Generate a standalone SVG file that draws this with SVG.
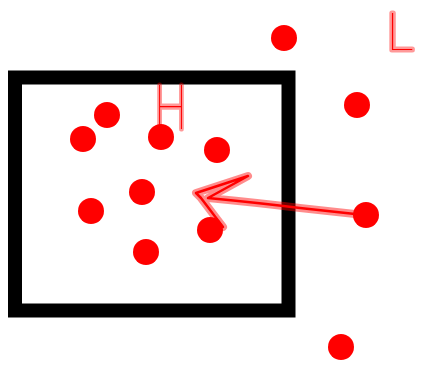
<svg xmlns="http://www.w3.org/2000/svg" width="423" height="367" viewBox="0 0 423 367">
<style>
.dot{fill:#ff0000}
.glow{fill:none;stroke:#ff0000;stroke-opacity:0.45;stroke-width:8;stroke-linecap:round;stroke-linejoin:round}
.core{fill:none;stroke:#ff0000;stroke-width:2.5;stroke-linecap:round;stroke-linejoin:round}
.lbl{font-family:Inter,"Liberation Sans",sans-serif;font-weight:100;fill:#ff0000;stroke:#ff0000;stroke-opacity:0.4;stroke-width:5;stroke-linejoin:round;paint-order:stroke}
</style>
<rect width="423" height="367" fill="#ffffff"/>
<rect x="15" y="77.5" width="273.5" height="233" fill="none" stroke="#000000" stroke-width="14" stroke-linejoin="miter"/>
<g id="dots-inside">
<circle class="dot" cx="107" cy="115" r="13"/>
<circle class="dot" cx="83" cy="139" r="13"/>
<circle class="dot" cx="161" cy="137" r="13"/>
<circle class="dot" cx="217" cy="150" r="13"/>
<circle class="dot" cx="142" cy="192" r="13"/>
<circle class="dot" cx="91" cy="211" r="13"/>
<circle class="dot" cx="210" cy="230" r="13"/>
<circle class="dot" cx="146" cy="252" r="13"/>
</g>
<g id="dots-outside">
<circle class="dot" cx="284" cy="38" r="13"/>
<circle class="dot" cx="357" cy="105" r="13"/>
<circle class="dot" cx="366" cy="215" r="13"/>
<circle class="dot" cx="341" cy="347" r="13"/>
</g>
<g id="connectors">
<path class="glow" d="M355,214 L300,208 Q260,203 208,198 L248,176 L196,193 L201,198 L223,227"/>
<path class="core" d="M355,214 L300,208 Q260,203 208,198 L248,176 L196,193 L201,198 L223,227"/>
</g>
<text class="lbl" x="0" y="0" font-size="60" transform="translate(154,129) scale(0.75,1)">H</text>
<text class="lbl" x="0" y="0" font-size="50" transform="translate(386,50) scale(1.05,1)">L</text>
</svg>
